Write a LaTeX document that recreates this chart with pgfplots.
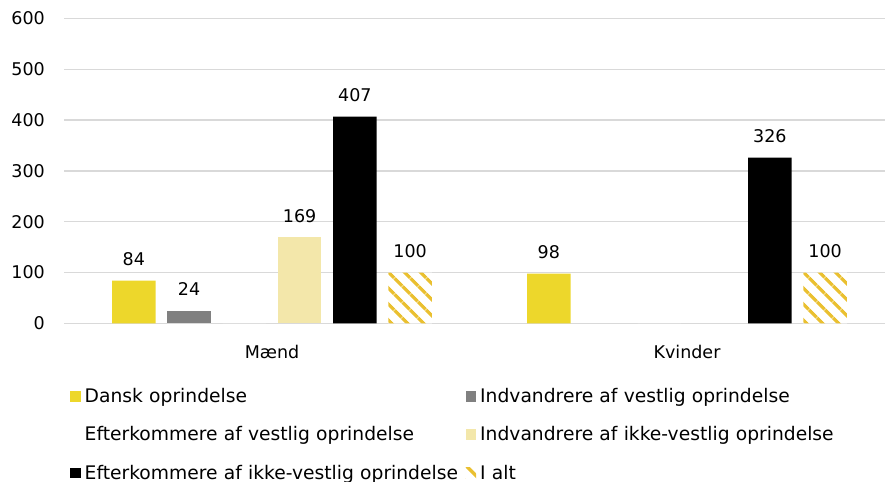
\documentclass[border=0pt]{standalone}
\usepackage{fontspec}
\setmainfont{DejaVu Sans}
\usepackage{pgfplots}
\pgfplotsset{compat=1.18}
\usetikzlibrary{patterns.meta}
\definecolor{dansk}{RGB}{237,215,43}
\definecolor{indvest}{RGB}{128,128,128}
\definecolor{indikke}{RGB}{243,231,170}
\definecolor{hatchy}{RGB}{234,192,48}
\definecolor{gridc}{RGB}{217,217,217}

\begin{document}
\begin{tikzpicture}
    \begin{axis}[
            scale only axis,
            width=830bp,
            height=304.8bp,
            ybar=11.85bp,
            bar width=43.4bp,
            xmin=-0.5, xmax=1.5,
            ymin=0, ymax=600,
            xtick={0,1},
            xticklabels={Mænd,Kvinder},
            ytick={0,100,...,600},
            axis lines*=left,
            y axis line style={draw=none},
            x axis line style={draw=gridc, line width=1.3bp},
            major tick length=0pt,
            ymajorgrids,
            grid style={draw=gridc, line width=1.3bp},
            /pgf/number format/assume math mode=true,
            ticklabel style={font=\fontsize{17.5bp}{21bp}\selectfont},
            xticklabel style={inner sep=0pt, anchor=north, yshift=-22bp},
            yticklabel style={inner sep=0pt, anchor=east, xshift=-19.5bp},
            every node near coord/.append style={font=\fontsize{17.5bp}{21bp}\selectfont,
                text=black, anchor=south, inner sep=0pt, yshift=15bp},
            legend columns=2,
            legend cell align=left,
            legend style={at={(rel axis cs:0,0)}, anchor=north west,
                xshift=5.5bp, yshift=-65bp, draw=none, fill=none,
                inner sep=0pt, column sep=0pt, row sep=22.5bp,
                font=\fontsize{18.7bp}{22.4bp}\selectfont,
                nodes={inner xsep=4bp, inner ysep=0pt, text width=377bp, align=left}},
            sq/.style={legend image code/.code={\fill[##1] (0bp,-5.25bp) rectangle (10.5bp,5.25bp);}},
        ]
        % Dansk oprindelse
        \addplot[draw=none, fill=dansk, sq, nodes near coords] coordinates {(0,84) (1,98)};
        % Indvandrere af vestlig oprindelse
        \addplot[draw=none, fill=indvest, sq, nodes near coords] coordinates {(0,24)};
        % Efterkommere af vestlig oprindelse (ingen synlig søjle)
        \addplot[draw=none, fill=white, sq] coordinates {(0,0) (1,0)};
        % Indvandrere af ikke-vestlig oprindelse
        \addplot[draw=none, fill=indikke, sq, nodes near coords] coordinates {(0,169)};
        % Efterkommere af ikke-vestlig oprindelse
        \addplot[draw=none, fill=black, sq, nodes near coords] coordinates {(0,407) (1,326)};
        % I alt
        \addplot[draw=none, fill=white,
            postaction={pattern={Lines[angle=-45, distance=11.8bp, line width=3.8bp]}, pattern color=hatchy},
            sq, nodes near coords] coordinates {(0,100) (1,100)};
        \legend{Dansk oprindelse, Indvandrere af vestlig oprindelse,
            Efterkommere af vestlig oprindelse, Indvandrere af ikke-vestlig oprindelse,
            Efterkommere af ikke-vestlig oprindelse, I alt}
    \end{axis}
    \pgfresetboundingbox
    \path (current axis.south west) ++(-64.5bp,-158.7bp) rectangle ++(885bp,482bp);
\end{tikzpicture}
\end{document}
